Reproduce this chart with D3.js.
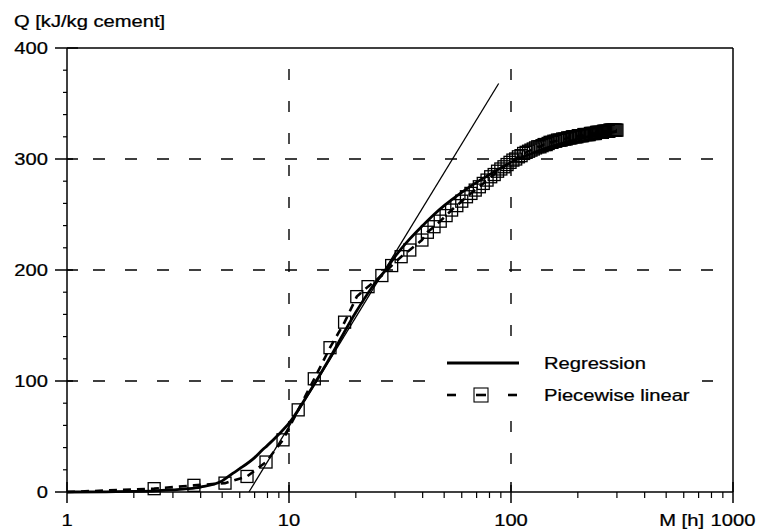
<!DOCTYPE html>
<html><head><meta charset="utf-8">
<script src="https://cdn.jsdelivr.net/npm/d3@7"></script>
<style>html,body{margin:0;padding:0;background:#fff;}svg{display:block;}</style>
</head><body>
<script>
// ---- data ----
const xTickValues = [1, 10, 100, 1000];
const xTickLabels = ["1", "10", "100", "1000"];
const yTickValues = [0, 100, 200, 300, 400];
const yTickLabels = ["0", "100", "200", "300", "400"];
const gridX = [10, 100];
const gridY = [100, 200, 300];

// Regression curve (t [h], Q [kJ/kg])
const regT = [1, 1.5, 2, 2.5, 3, 3.5, 4, 5, 5.6, 6, 7, 7.6, 8, 9, 10, 12, 15, 20, 25, 27, 30, 35, 40, 45, 50, 60, 70, 80, 90, 100, 120, 150, 200, 250, 300];
const regQ = [0, 0.2, 0.5, 1, 2, 3, 4.5, 10, 17, 21, 31, 38, 42, 52, 62, 86, 118, 162, 191, 199, 212, 228, 240, 250, 258, 270, 279, 286, 292, 297, 304, 311, 318, 322, 325];

// Tangent line
const tanT = [6.6, 88];
const tanQ = [0, 368];

// Piecewise linear (measured points)
const pwT = [1, 2.47, 3.73, 5.15, 6.47, 7.88, 9.4, 11, 13, 15.3, 17.8, 20.2, 22.7, 26.2, 29, 32, 35, 39.7, 42,
  45, 48, 51, 54, 57, 60, 63, 66, 69, 72, 75, 78, 81, 84, 87, 90, 93, 96, 99, 102, 105, 108, 111, 114, 117, 120,
  123, 126, 129, 132, 135, 138, 141, 144, 147, 150, 153, 156, 159, 162, 165, 168, 171, 174, 177, 180, 183, 186,
  189, 192, 195, 198, 201, 204, 207, 210, 213, 216, 219, 222, 225, 228, 231, 234, 237, 240, 243, 246, 249, 252,
  255, 258, 261, 264, 267, 270, 273, 276, 279, 282, 285, 288, 291, 294, 297, 300];
const pwQ = [0, 3, 6, 8, 14, 27, 47, 74, 102, 130, 153, 176, 185, 195, 204, 212, 218, 227, 234,
  239, 244, 249, 254, 258, 262, 266, 269, 272, 275, 278, 281, 284, 286, 289, 291, 293, 295, 297, 299, 300, 302, 303, 305, 306, 307,
  308, 309, 310, 311, 311, 312, 313, 313, 314, 315, 315, 316, 316, 317, 317, 317, 318, 318, 318, 319, 319, 319,
  320, 320, 320, 320, 321, 321, 321, 321, 322, 322, 322, 322, 322, 323, 323, 323, 323, 323, 324, 324, 324, 324,
  324, 324, 325, 325, 325, 325, 325, 325, 326, 326, 326, 326, 326, 326, 326, 326];
const pwMarkerFrom = 1; // first point has no marker

const legendLabels = ["Regression", "Piecewise linear"];
const yTitle = "Q [kJ/kg cement]";
const xTitle = "M [h]";

// ---- layout ----
const W = 762, H = 529;
const L = 67, R = 733, T = 48, B = 492;
const FS = 16, SX = 1.26;
const font = "'Liberation Sans', Arial, Helvetica, sans-serif";

const svg = d3.select("body").append("svg").attr("width", W).attr("height", H);
const x = d3.scaleLog().domain([1, 1000]).range([L, R]);
const y = d3.scaleLinear().domain([0, 400]).range([B, T]);

function txt(g, px, py, s, anchor) {
  return g.append("text")
    .attr("transform", `translate(${px},${py}) scale(${SX},1)`)
    .attr("text-anchor", anchor || "start")
    .attr("font-family", font).attr("font-size", FS).attr("fill", "#000")
    .attr("stroke", "#000").attr("stroke-width", 0.25)
    .text(s);
}

// grid
const grid = svg.append("g").attr("stroke", "#000").attr("stroke-width", 1.4).attr("fill", "none");
gridX.forEach(v => grid.append("line").attr("x1", x(v)).attr("x2", x(v)).attr("y1", T).attr("y2", B)
  .attr("stroke-dasharray", "11,21").attr("stroke-dashoffset", 11));
gridY.forEach(v => grid.append("line").attr("x1", L).attr("x2", R).attr("y1", y(v)).attr("y2", y(v))
  .attr("stroke-dasharray", "12,20").attr("stroke-dashoffset", 6));

// tangent
const line = d3.line().x(d => x(d[0])).y(d => y(d[1]));
svg.append("path").datum(tanT.map((t, i) => [t, tanQ[i]])).attr("d", line)
  .attr("fill", "none").attr("stroke", "#000").attr("stroke-width", 1.3);

// regression
svg.append("path").datum(regT.map((t, i) => [t, regQ[i]])).attr("d", line.curve(d3.curveMonotoneX))
  .attr("fill", "none").attr("stroke", "#000").attr("stroke-width", 2.8);
line.curve(d3.curveLinear);

// piecewise
const pw = pwT.map((t, i) => [t, pwQ[i]]);
svg.append("path").datum(pw).attr("d", line)
  .attr("fill", "none").attr("stroke", "#000").attr("stroke-width", 2.6).attr("stroke-dasharray", "8,6");
const sq = 12;
svg.append("g").selectAll("rect").data(pw.slice(pwMarkerFrom)).join("rect")
  .attr("x", d => x(d[0]) - sq / 2).attr("y", d => y(d[1]) - sq / 2)
  .attr("width", sq).attr("height", sq)
  .attr("fill", "none").attr("stroke", "#000").attr("stroke-width", 1.3);

// axes frame
const ax = svg.append("g").attr("stroke", "#000").attr("stroke-width", 1.5);
ax.append("line").attr("x1", L).attr("x2", R).attr("y1", B).attr("y2", B);
ax.append("line").attr("x1", L).attr("x2", L).attr("y1", T).attr("y2", B);
ax.append("line").attr("x1", L).attr("x2", R).attr("y1", T).attr("y2", T);
ax.append("line").attr("x1", R).attr("x2", R).attr("y1", T).attr("y2", B);

// y ticks
yTickValues.forEach((v, i) => {
  ax.append("line").attr("x1", L - 12).attr("x2", L + 11).attr("y1", y(v)).attr("y2", y(v));
  txt(svg, L - 19, y(v) + 5.7, yTickLabels[i], "end");
});
d3.range(20, 400, 20).filter(v => v % 100 !== 0).forEach(v => {
  ax.append("line").attr("x1", L - 4).attr("x2", L).attr("y1", y(v)).attr("y2", y(v)).attr("stroke-width", 1.2);
});

// x ticks
xTickValues.forEach((v, i) => {
  ax.append("line").attr("x1", x(v)).attr("x2", x(v)).attr("y1", B - 10).attr("y2", B + 11);
  txt(svg, x(v), 526, xTickLabels[i], "middle");
});
[1, 10, 100].forEach(dec => d3.range(2, 10).forEach(m => {
  ax.append("line").attr("x1", x(dec * m)).attr("x2", x(dec * m)).attr("y1", B).attr("y2", B + 6).attr("stroke-width", 1.2);
}));

// titles
txt(svg, 14, 27, yTitle, "start");
txt(svg, 704, 526, xTitle, "end");

// legend
const lg = svg.append("g");
lg.append("rect").attr("x", 440).attr("y", 350).attr("width", 262).attr("height", 58).attr("fill", "#fff");
lg.append("line").attr("x1", 447).attr("x2", 519).attr("y1", 363).attr("y2", 363)
  .attr("stroke", "#000").attr("stroke-width", 2.8);
txt(lg, 544, 369, legendLabels[0], "start");
const ly = 395;
[[447, 456], [476, 486], [508, 517]].forEach(s => lg.append("line").attr("x1", s[0]).attr("x2", s[1])
  .attr("y1", ly).attr("y2", ly).attr("stroke", "#000").attr("stroke-width", 2.6));
lg.append("rect").attr("x", 474).attr("y", ly - 7).attr("width", 14).attr("height", 14)
  .attr("fill", "none").attr("stroke", "#000").attr("stroke-width", 1.1);
txt(lg, 544, 401, legendLabels[1], "start");
</script>
</body></html>
